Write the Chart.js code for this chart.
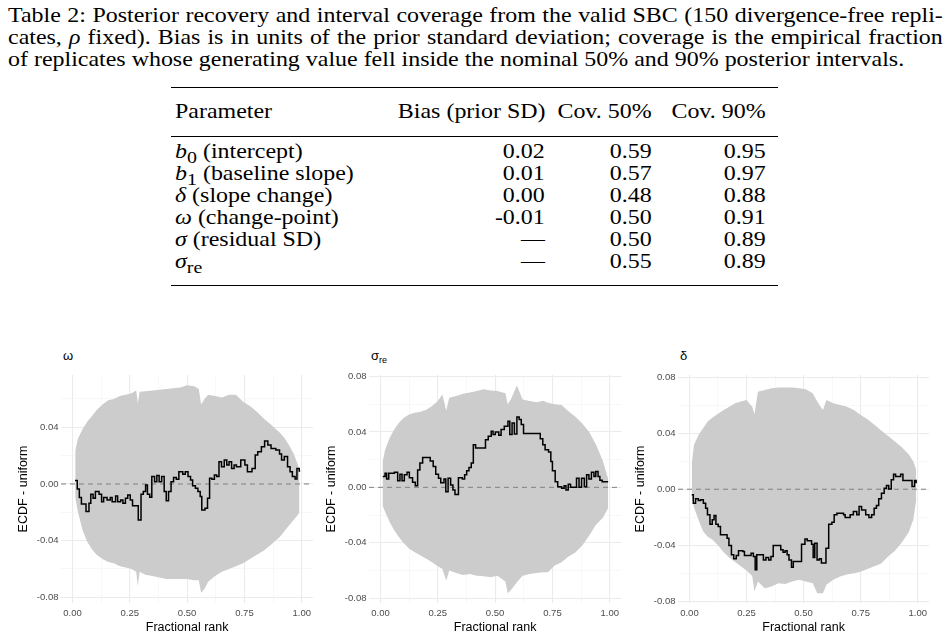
<!DOCTYPE html>
<html>
<head>
<meta charset="utf-8">
<script src="https://cdn.jsdelivr.net/npm/chart.js@4.4.1/dist/chart.umd.min.js"></script>
<style>
	body { margin: 0; width: 948px; height: 639px; background: #fff; position: relative; overflow: hidden; }
	.cap { position: absolute; left: 8px; width: 820px; font-family: "Liberation Serif", "Times New Roman", serif; font-size: 21px; line-height: 22px; white-space: nowrap; color: #000; transform: scaleX(1.14); transform-origin: 0 0; }
	.just { text-align: justify; text-align-last: justify; }
	.tbl { position: absolute; font-family: "Liberation Serif", "Times New Roman", serif; font-size: 21px; line-height: 22px; white-space: nowrap; color: #000; transform: scaleX(1.14); }
	.tl { transform-origin: 0 0; }
	.tr { transform-origin: 100% 0; }
	.rule { position: absolute; left: 171px; width: 607px; background: #000; }
	.ptitle { position: absolute; font-family: "Liberation Sans", Arial, sans-serif; font-size: 13px; line-height: 13px; color: #000; }
	.ptitle sub { font-size: 9px; vertical-align: -3px; line-height: 0; }
	canvas { position: absolute; }
</style>
</head>
<body>
<div class="cap just" style="top:4px">Table 2: Posterior recovery and interval coverage from the valid SBC (150 divergence-free repli-</div>
<div class="cap just" style="top:26px">cates, <i>ρ</i> fixed). Bias is in units of the prior standard deviation; coverage is the empirical fraction</div>
<div class="cap" style="top:48px">of replicates whose generating value fell inside the nominal 50% and 90% posterior intervals.</div>

<div class="rule" style="top:87px;height:1.4px"></div>
<div class="rule" style="top:136px;height:0.8px"></div>
<div class="rule" style="top:285px;height:1.4px"></div>
<div id="table"></div>

<div class="ptitle" style="left:63px;top:349px">ω</div>
<div class="ptitle" style="left:371px;top:349px">σ<sub>re</sub></div>
<div class="ptitle" style="left:680px;top:349px">δ</div>

<canvas id="omegaChart" width="304" height="279" style="left:12px;top:360px"></canvas>
<canvas id="sigmaChart" width="304" height="279" style="left:320px;top:360px"></canvas>
<canvas id="deltaChart" width="303" height="279" style="left:629px;top:360px"></canvas>

<script>
// table values
const tableHeader = ["Parameter", "Bias (prior SD)", "Cov. 50%", "Cov. 90%"];
const paramNames = ["<i>b</i><sub>0</sub> (intercept)", "<i>b</i><sub>1</sub> (baseline slope)", "<i>δ</i> (slope change)",
	"<i>ω</i> (change-point)", "<i>σ</i> (residual SD)", "<i>σ</i><sub>re</sub>"];
const biasValues = ["0.02", "0.01", "0.00", "-0.01", "—", "—"];
const cov50 = ["0.59", "0.57", "0.48", "0.50", "0.50", "0.55"];
const cov90 = ["0.95", "0.97", "0.88", "0.91", "0.89", "0.89"];

// axis ticks
const xTicks = [0, 0.125, 0.25, 0.375, 0.5, 0.625, 0.75, 0.875, 1];
const yTicks = [-0.08, -0.06, -0.04, -0.02, 0, 0.02, 0.04, 0.06, 0.08];

// omega panel
const omegaRank = [0.011, 0.021, 0.030, 0.039, 0.059, 0.072, 0.080, 0.090, 0.100, 0.116, 0.127, 0.136, 0.151, 0.165, 0.173,
	0.188, 0.197, 0.210, 0.220, 0.231, 0.241, 0.252, 0.262, 0.287, 0.299, 0.309, 0.319, 0.327, 0.337, 0.346, 0.358, 0.368,
	0.378, 0.389, 0.400, 0.409, 0.419, 0.430, 0.441, 0.453, 0.464, 0.481, 0.492, 0.504, 0.515, 0.524, 0.536, 0.547, 0.557,
	0.564, 0.578, 0.589, 0.598, 0.608, 0.619, 0.629, 0.639, 0.650, 0.662, 0.673, 0.683, 0.694, 0.705, 0.715, 0.734, 0.752,
	0.763, 0.783, 0.797, 0.808, 0.824, 0.838, 0.852, 0.866, 0.887, 0.903, 0.912, 0.924, 0.938, 0.949, 0.959, 0.971, 0.979,
	0.989, 0.993];
const omegaDiff = [0.0024, -0.0035, -0.0096, -0.0141, -0.0195, -0.0136, -0.0073, -0.0101, -0.0054, -0.0073, -0.0125, -0.0096,
	-0.0113, -0.0096, -0.0125, -0.0085, -0.0125, -0.0113, -0.0136, -0.0101, -0.0078, -0.0113, -0.0153, -0.0254, -0.0073,
	-0.0054, -0.0007, -0.0073, -0.0094, 0.0052, 0.0016, 0.0059, 0.0016, 0.0052, -0.0054, -0.0118, -0.0054, 0.0016, 0.0045,
	0.0033, 0.0087, 0.0068, 0.0087, 0.0052, 0.0028, -0.0012, -0.0031, -0.0054, -0.0089, -0.0183, -0.0172, -0.0101, 0.0040,
	0.0033, 0.0063, 0.0052, 0.0157, 0.0122, 0.0169, 0.0134, 0.0157, 0.0110, 0.0134, 0.0122, 0.0169, 0.0134, 0.0087, 0.0110,
	0.0204, 0.0228, 0.0263, 0.0303, 0.0275, 0.0251, 0.0240, 0.0212, 0.0169, 0.0193, 0.0122, 0.0087, 0.0052, 0.0035, 0.0110,
	0.0092, 0.0092];
const omegaBandRank = [0.012, 0.024, 0.045, 0.065, 0.085, 0.105, 0.131, 0.156, 0.181, 0.207, 0.232, 0.257, 0.278, 0.285, 0.293,
	0.318, 0.348, 0.379, 0.409, 0.440, 0.470, 0.500, 0.531, 0.551, 0.561, 0.576, 0.592, 0.622, 0.652, 0.683, 0.713, 0.744,
	0.774, 0.804, 0.835, 0.865, 0.885, 0.906, 0.926, 0.946, 0.966, 0.982, 0.990];
const omegaBandHi = [0.0235, 0.032, 0.039, 0.044, 0.048, 0.052, 0.056, 0.059, 0.060, 0.062, 0.063, 0.064, 0.066, 0.057, 0.065,
	0.0655, 0.066, 0.0665, 0.067, 0.0675, 0.068, 0.0696, 0.069, 0.067, 0.056, 0.060, 0.063, 0.062, 0.061, 0.063, 0.063, 0.058,
	0.055, 0.051, 0.046, 0.042, 0.039, 0.036, 0.032, 0.027, 0.021, 0.014, 0.010];
const omegaBandLo = [-0.0095, -0.020, -0.033, -0.041, -0.046, -0.050, -0.053, -0.055, -0.056, -0.058, -0.059, -0.060, -0.062,
	-0.072, -0.062, -0.064, -0.065, -0.066, -0.067, -0.067, -0.067, -0.067, -0.068, -0.068, -0.0767, -0.074, -0.069, -0.065,
	-0.062, -0.060, -0.058, -0.056, -0.053, -0.050, -0.047, -0.043, -0.040, -0.037, -0.033, -0.029, -0.025, -0.022, -0.020];

// sigma_re panel
const sigmaRank = [0.010, 0.020, 0.027, 0.036, 0.061, 0.075, 0.085, 0.094, 0.104, 0.116, 0.126, 0.140, 0.152, 0.162, 0.172,
	0.184, 0.205, 0.217, 0.230, 0.241, 0.253, 0.263, 0.277, 0.285, 0.295, 0.306, 0.316, 0.325, 0.340, 0.357, 0.367, 0.376,
	0.386, 0.396, 0.405, 0.415, 0.451, 0.458, 0.470, 0.483, 0.491, 0.501, 0.516, 0.526, 0.540, 0.556, 0.564, 0.574, 0.584,
	0.595, 0.605, 0.614, 0.624, 0.685, 0.697, 0.708, 0.718, 0.733, 0.743, 0.750, 0.762, 0.773, 0.790, 0.801, 0.809, 0.819,
	0.829, 0.855, 0.866, 0.877, 0.889, 0.899, 0.909, 0.920, 0.931, 0.939, 0.949, 0.957, 0.967, 0.993];
const sigmaDiff = [0.0078, 0.0102, 0.0061, 0.0102, 0.0109, 0.0048, 0.0095, 0.0048, 0.0090, 0.0109, 0.0070, 0.0036, 0.0012,
	0.0126, 0.0175, 0.0216, 0.0216, 0.0191, 0.0150, 0.0095, 0.0065, 0.0034, 0.0061, -0.0032, 0.0065, 0.0017, -0.0019,
	-0.0051, 0.0070, 0.0061, 0.0090, 0.0119, 0.0143, 0.0175, 0.0308, 0.0284, 0.0284, 0.0344, 0.0368, 0.0405, 0.0381, 0.0400,
	0.0376, 0.0417, 0.0441, 0.0477, 0.0381, 0.0465, 0.0385, 0.0507, 0.0490, 0.0453, 0.0388, 0.0388, 0.0351, 0.0308, 0.0272,
	0.0255, 0.0187, 0.0119, 0.0041, 0.0005, -0.0007, 0.0012, -0.0019, 0.0022, 0.0000, 0.0065, 0.0000, 0.0065, 0.0005, 0.0090,
	0.0061, 0.0109, 0.0078, 0.0114, 0.0078, 0.0051, 0.0041, 0.0041];
const sigmaBandRank = [0.009, 0.020, 0.040, 0.060, 0.080, 0.100, 0.125, 0.150, 0.175, 0.200, 0.225, 0.250, 0.270, 0.287, 0.300,
	0.330, 0.360, 0.390, 0.420, 0.450, 0.480, 0.510, 0.545, 0.555, 0.570, 0.595, 0.620, 0.650, 0.680, 0.710, 0.730, 0.760,
	0.790, 0.820, 0.850, 0.880, 0.910, 0.940, 0.970, 0.993];
const sigmaBandHi = [0.018, 0.027, 0.0356, 0.0417, 0.0465, 0.050, 0.0526, 0.0538, 0.0545, 0.056, 0.0587, 0.0623, 0.067, 0.0555,
	0.0647, 0.066, 0.0676, 0.0684, 0.0696, 0.0708, 0.070, 0.0696, 0.068, 0.060, 0.064, 0.0736, 0.0635, 0.0623, 0.0615, 0.0625,
	0.061, 0.060, 0.0594, 0.055, 0.051, 0.046, 0.040, 0.031, 0.019, 0.006];
const sigmaBandLo = [-0.013, -0.0177, -0.025, -0.031, -0.0359, -0.040, -0.0444, -0.0468, -0.0492, -0.0516, -0.054, -0.057,
	-0.059, -0.0674, -0.060, -0.0618, -0.0633, -0.0625, -0.0638, -0.0642, -0.065, -0.0638, -0.068, -0.0765, -0.074, -0.0686,
	-0.0638, -0.0625, -0.0618, -0.0613, -0.0613, -0.0565, -0.054, -0.050, -0.047, -0.042, -0.035, -0.027, -0.022, -0.015];

// delta panel
const deltaRank = [0.010, 0.017, 0.027, 0.039, 0.049, 0.061, 0.071, 0.079, 0.090, 0.100, 0.108, 0.116, 0.126, 0.136, 0.155,
	0.165, 0.173, 0.184, 0.194, 0.205, 0.215, 0.234, 0.241, 0.260, 0.270, 0.280, 0.288, 0.295, 0.316, 0.324, 0.335, 0.347,
	0.357, 0.367, 0.393, 0.400, 0.410, 0.419, 0.428, 0.436, 0.447, 0.455, 0.483, 0.491, 0.506, 0.516, 0.535, 0.542, 0.549,
	0.559, 0.569, 0.578, 0.598, 0.610, 0.624, 0.634, 0.646, 0.675, 0.682, 0.704, 0.718, 0.733, 0.743, 0.754, 0.772, 0.786,
	0.798, 0.809, 0.819, 0.829, 0.841, 0.853, 0.863, 0.873, 0.884, 0.894, 0.903, 0.913, 0.925, 0.935, 0.971, 0.975, 0.986,
	0.993];
const deltaDiff = [-0.0040, -0.0100, -0.0069, -0.0081, -0.0076, -0.0100, -0.0136, -0.0183, -0.0250, -0.0219, -0.0188, -0.0250,
	-0.0267, -0.0326, -0.0326, -0.0350, -0.0402, -0.0469, -0.0497, -0.0474, -0.0440, -0.0445, -0.0474, -0.0474, -0.0457,
	-0.0481, -0.0576, -0.0469, -0.0469, -0.0505, -0.0488, -0.0505, -0.0481, -0.0402, -0.0402, -0.0433, -0.0450, -0.0440,
	-0.0469, -0.0505, -0.0557, -0.0516, -0.0516, -0.0393, -0.0355, -0.0369, -0.0393, -0.0488, -0.0386, -0.0505, -0.0497,
	-0.0528, -0.0421, -0.0250, -0.0236, -0.0183, -0.0171, -0.0183, -0.0202, -0.0183, -0.0159, -0.0183, -0.0124, -0.0148,
	-0.0183, -0.0202, -0.0183, -0.0136, -0.0117, -0.0069, -0.0029, 0.0007, 0.0026, 0.0002, 0.0067, 0.0107, 0.0090, 0.0090,
	0.0107, 0.0062, 0.0062, 0.0019, 0.0062, 0.0043];
const deltaBandRank = [0.010, 0.020, 0.040, 0.060, 0.080, 0.100, 0.125, 0.150, 0.175, 0.200, 0.225, 0.250, 0.275, 0.285, 0.300,
	0.330, 0.360, 0.390, 0.420, 0.450, 0.480, 0.510, 0.540, 0.560, 0.570, 0.585, 0.600, 0.630, 0.660, 0.690, 0.720, 0.750,
	0.780, 0.810, 0.840, 0.870, 0.900, 0.930, 0.960, 0.980, 0.993];
const deltaBandHi = [0.018, 0.0317, 0.0388, 0.0435, 0.0483, 0.051, 0.054, 0.0566, 0.059, 0.0614, 0.0626, 0.0638, 0.059, 0.0535,
	0.0697, 0.0709, 0.0721, 0.0726, 0.0726, 0.0726, 0.0721, 0.0714, 0.0685, 0.0626, 0.060, 0.0566, 0.0638, 0.0614, 0.0602,
	0.059, 0.0566, 0.053, 0.050, 0.046, 0.042, 0.038, 0.034, 0.030, 0.025, 0.020, 0.014];
const deltaBandLo = [-0.006, -0.013, -0.022, -0.030, -0.034, -0.036, -0.040, -0.045, -0.049, -0.052, -0.055, -0.058, -0.062,
	-0.073, -0.066, -0.0707, -0.0695, -0.0671, -0.0678, -0.066, -0.0647, -0.066, -0.0671, -0.0743, -0.0743, -0.0743, -0.0683,
	-0.0647, -0.0624, -0.061, -0.060, -0.059, -0.057, -0.055, -0.053, -0.048, -0.044, -0.038, -0.031, -0.022, -0.008];

// build the table
function buildTable() {
	const host = document.getElementById("table");
	const rightEdges = [545, 652, 766];
	const rows = [tableHeader];
	for (let i = 0; i < paramNames.length; i++) {
		rows.push([paramNames[i], biasValues[i], cov50[i], cov90[i]]);
	}
	const baselines = [117, 157, 179, 201, 223, 245, 267];
	rows.forEach(function (row, r) {
		const top = baselines[r] - 17;
		let html = `<div class="tbl tl" style="left:175px;top:${top}px">${row[0]}</div>`;
		for (let c = 1; c < 4; c++) {
			html += `<div class="tbl tr" style="right:${948 - rightEdges[c - 1]}px;top:${top}px">${row[c]}</div>`;
		}
		host.insertAdjacentHTML("beforeend", html);
	});
}

function isMajor(v, step) {
	return Math.abs(v / step - Math.round(v / step)) < 1e-6;
}

function makePanel(id, rank, diff, bandRank, bandHi, bandLo, yMin, yMax) {
	const ctx = document.getElementById(id).getContext("2d");
	const toPoints = (xs, ys) => xs.map((x, i) => ({ x: x, y: ys[i] }));
	new Chart(ctx, {
		type: "line",
		data: {
			datasets: [
				{
					data: toPoints(rank, diff),
					borderColor: "#000",
					borderWidth: 1.5,
					stepped: "before",
					fill: false,
				},
				{
					data: [{ x: -0.05, y: 0 }, { x: 1.05, y: 0 }],
					borderColor: "#808080",
					borderWidth: 1,
					borderDash: [5, 4],
					fill: false,
				},
				{
					data: toPoints(bandRank, bandHi),
					borderColor: "rgba(0,0,0,0)",
					borderWidth: 0,
					backgroundColor: "#cccccc",
					fill: "+1",
				},
				{
					data: toPoints(bandRank, bandLo),
					borderColor: "rgba(0,0,0,0)",
					borderWidth: 0,
					fill: false,
				},
			],
		},
		options: {
			responsive: false,
			animation: false,
			devicePixelRatio: 1,
			layout: { padding: { top: 15, right: 0, bottom: 0, left: 0 } },
			elements: { point: { radius: 0 }, line: { tension: 0 } },
			plugins: { legend: { display: false }, tooltip: { enabled: false } },
			scales: {
				x: {
					type: "linear",
					min: -0.05,
					max: 1.05,
					afterBuildTicks: (scale) => { scale.ticks = xTicks.map((v) => ({ value: v })); },
					afterFit: (scale) => { scale.height = 36; },
					border: { display: false },
					grid: {
						drawTicks: false,
						color: (c) => (c.tick && isMajor(c.tick.value, 0.25) ? "#ebebeb" : "#f3f3f3"),
						lineWidth: (c) => (c.tick && isMajor(c.tick.value, 0.25) ? 1.1 : 0.6),
					},
					ticks: {
						padding: 5,
						autoSkip: false,
						maxRotation: 0,
						color: "#4d4d4d",
						font: { family: "Liberation Sans", size: 9.5 },
						callback: (v) => (isMajor(v, 0.25) ? v.toFixed(2) : ""),
					},
					title: {
						display: true,
						text: "Fractional rank",
						color: "#000",
						font: { family: "Liberation Sans", size: 12.5 },
						padding: { top: 0, bottom: 4 },
					},
				},
				y: {
					min: yMin,
					max: yMax,
					afterBuildTicks: (scale) => {
						scale.ticks = yTicks.filter((v) => v >= yMin && v <= yMax).map((v) => ({ value: v }));
					},
					afterFit: (scale) => { scale.width = 49; },
					border: { display: false },
					grid: {
						drawTicks: false,
						color: (c) => (c.tick && isMajor(c.tick.value, 0.04) ? "#ebebeb" : "#f3f3f3"),
						lineWidth: (c) => (c.tick && isMajor(c.tick.value, 0.04) ? 1.1 : 0.6),
					},
					ticks: {
						padding: 2.5,
						autoSkip: false,
						color: "#4d4d4d",
						font: { family: "Liberation Sans", size: 9.5 },
						callback: (v) => (isMajor(v, 0.04) ? (Math.abs(v) < 1e-9 ? "0.00" : v.toFixed(2)) : ""),
					},
					title: {
						display: true,
						text: "ECDF - uniform",
						color: "#000",
						font: { family: "Liberation Sans", size: 12.5 },
						padding: { top: 4, bottom: 0 },
					},
				},
			},
		},
	});
}

buildTable();
makePanel("omegaChart", omegaRank, omegaDiff, omegaBandRank, omegaBandHi, omegaBandLo, -0.084, 0.0769);
makePanel("sigmaChart", sigmaRank, sigmaDiff, sigmaBandRank, sigmaBandHi, sigmaBandLo, -0.0835, 0.0811);
makePanel("deltaChart", deltaRank, deltaDiff, deltaBandRank, deltaBandHi, deltaBandLo, -0.0813, 0.0816);
</script>
</body>
</html>
